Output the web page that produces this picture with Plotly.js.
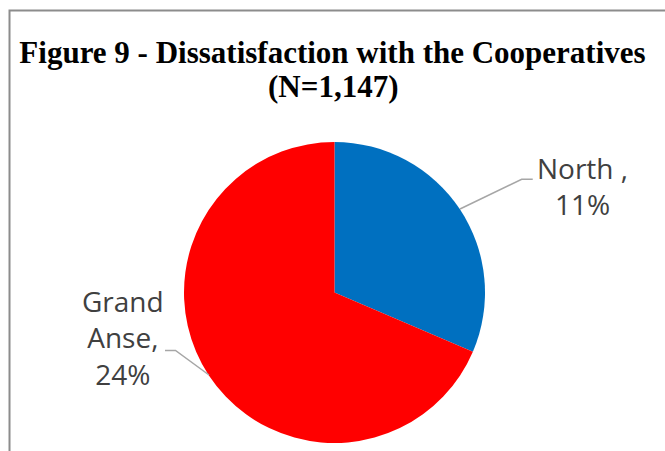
<!DOCTYPE html>
<html>
<head>
<meta charset="utf-8">
<script src="https://cdn.plot.ly/plotly-3.0.1.min.js"></script>
<style>html,body{margin:0;padding:0;background:#fff;}#chart{width:665px;height:451px;}</style>
</head>
<body>
<div id="chart"></div>
<script>
const labels = ["North ", "Grand Anse"];
const values = [11, 24];
const colors = ["#0070C0", "#FF0000"];
const titleLines = ["Figure 9 - Dissatisfaction with the Cooperatives", "(N=1,147)"];

const W = 665, H = 451;
const px = x => x / W;
const py = y => 1 - y / H;

const trace = {
  type: "pie",
  labels: labels,
  values: values,
  sort: false,
  direction: "clockwise",
  rotation: 0,
  marker: {colors: colors, line: {color: "#ffffff", width: 0}},
  textinfo: "none",
  hoverinfo: "label+value",
  showlegend: false,
  domain: {x: [px(184), px(485)], y: [py(443), py(142)]}
};

const labelFont = {family: "Open Sans, Noto Sans, sans-serif", size: 28, color: "#404040"};
const titleFont = {family: "Times New Roman, Liberation Serif, serif", size: 31, color: "#000000", weight: "bold"};

const annotations = [
  {
    text: titleLines[1],
    xref: "paper", yref: "paper", x: 0.5, y: py(87),
    xanchor: "center", yanchor: "middle", showarrow: false, font: titleFont
  },
  {
    text: labels[0] + ",<br>" + values[0] + "%",
    xref: "paper", yref: "paper", x: px(582), y: py(186),
    xanchor: "center", yanchor: "middle", showarrow: false, font: labelFont, align: "center"
  },
  {
    text: labels[1].replace(" ", "<br>") + ",<br>" + values[1] + "%",
    xref: "paper", yref: "paper", x: px(123), y: py(337),
    xanchor: "center", yanchor: "middle", showarrow: false, font: labelFont, align: "center"
  }
];

function pathPx(pts) {
  return pts.map((p, i) => (i ? "L" : "M") + px(p[0]).toFixed(4) + "," + py(p[1]).toFixed(4)).join(" ");
}

const shapes = [
  {type: "path", xref: "paper", yref: "paper", path: pathPx([[460, 209], [521.7, 179.3], [532.7, 179.3]]),
   line: {color: "#a6a6a6", width: 1.5}},
  {type: "path", xref: "paper", yref: "paper", path: pathPx([[165, 350.5], [175.5, 350.5], [209, 375]]),
   line: {color: "#a6a6a6", width: 1.5}},
  {type: "path", xref: "paper", yref: "paper", path: pathPx([[9.5, 460], [9.5, 10.5], [680, 10.5]]),
   line: {color: "#8c8c8c", width: 2}}
];

const layout = {
  width: W, height: H,
  margin: {l: 0, r: 0, t: 0, b: 0},
  paper_bgcolor: "#ffffff",
  title: {
    text: titleLines[0],
    font: titleFont,
    x: 0.5, xanchor: "center", y: 1 - 52 / H, yanchor: "middle", yref: "container"
  },
  annotations: annotations,
  shapes: shapes
};

Plotly.newPlot("chart", [trace], layout, {displayModeBar: false, staticPlot: true});
</script>
</body>
</html>
